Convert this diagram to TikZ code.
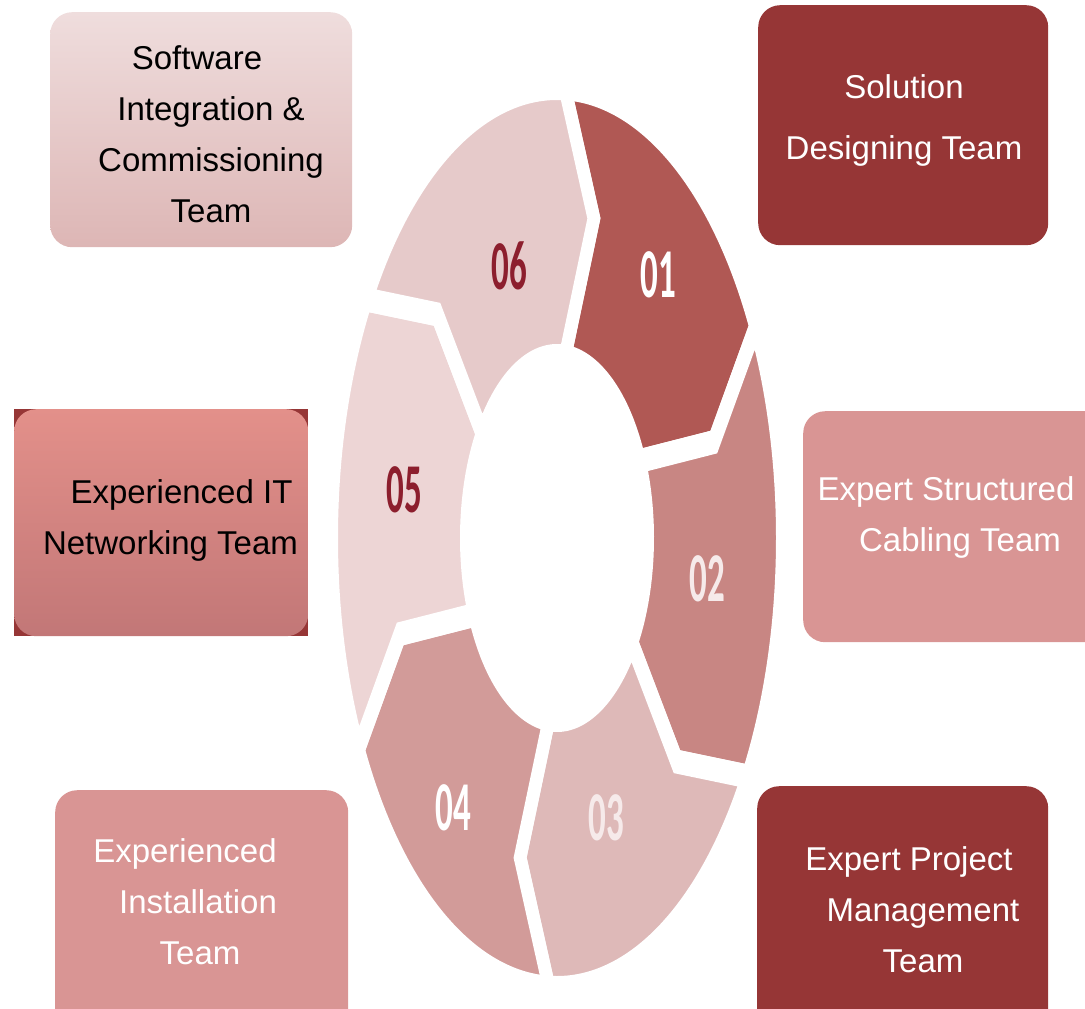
\documentclass[tikz,border=0pt]{standalone}
\usepackage{fontspec}
\setmainfont{Liberation Sans}
\newfontfamily\numfont{Carlito}
\definecolor{darkred}{RGB}{150,54,54}
\definecolor{rosered}{RGB}{217,149,148}
\definecolor{softtop}{RGB}{239,221,221}
\definecolor{softbot}{RGB}{221,182,181}
\definecolor{nettop}{RGB}{227,144,138}
\definecolor{netbot}{RGB}{194,119,119}
\definecolor{seg01}{RGB}{176,88,84}
\definecolor{seg02}{RGB}{200,134,131}
\definecolor{seg03}{RGB}{222,185,184}
\definecolor{seg04}{RGB}{210,155,153}
\definecolor{seg05}{RGB}{237,213,213}
\definecolor{seg06}{RGB}{230,202,202}
\definecolor{numdark}{RGB}{140,30,45}
\definecolor{numlight}{RGB}{246,234,234}
\begin{document}
\begin{tikzpicture}[
    x=1pt, y=-1pt,
    team/.style={rectangle, rounded corners=22pt, anchor=north west, inner sep=0pt},
    teamtext/.style={align=center, font=\fontsize{33}{51}\selectfont},
    seg/.style={draw=white, line width=12pt, line join=miter},
    num/.style={font=\numfont\bfseries\fontsize{35}{40}\selectfont}
]
\clip (0,0) rectangle (1085,1009);

% Ring of six chevron segments (drawn as a circle, stretched upright)
\begin{scope}[transform canvas={cm={1,0,0,2,(557pt,-538pt)}}, y=1pt]
\foreach \a/\c in {85/seg01, 25/seg02, -35/seg03, -95/seg04, -155/seg05, 145/seg06} {
    \pgfmathsetmacro\e{\a-60}
    \path[seg, fill=\c] (\a+3:225) arc[start angle=\a+3, end angle=\e+3, radius=225]
        -- (\e-8:164) -- (\e:91) arc[start angle=\e, end angle=\a, radius=91]
        -- (\a-8:164) -- cycle;
}
% Step numbers
\foreach \p/\n/\col in {{(101,131.5)}/01/white, {(150,-20.5)}/02/numlight,
    {(49,-140)}/03/numlight, {(-104,-135)}/04/white,
    {(-153,24)}/05/numdark, {(-48,136)}/06/numdark} {
    \node[num, text=\col] (n\n) at \p {\n};
}
\end{scope}

% Team boxes
\node[team, top color=softtop, bottom color=softbot, minimum width=302pt, minimum height=235pt] (soft) at (50,12) {};
\node[team, fill=darkred, minimum width=290pt, minimum height=240pt] (solution) at (758,5) {};
\fill[darkred] (14,409) rectangle (308,636);
\node[team, top color=nettop, bottom color=netbot, minimum width=294pt, minimum height=227pt] (network) at (14,409) {};
\node[team, fill=rosered, minimum width=320pt, minimum height=231pt] (cabling) at (803,411) {};
\node[team, fill=rosered, minimum width=293pt, minimum height=250pt] (install) at (55,790) {};
\node[team, fill=darkred, minimum width=291pt, minimum height=250pt] (project) at (757,786) {};

% Team labels
\node[teamtext] (soft-l) at (211,134) {Software\hspace*{28pt}\\ Integration \&\\ Commissioning\\ Team};
\node[teamtext, text=white, font=\fontsize{33}{61}\selectfont] (solution-l) at (904,120) {Solution\\ Designing Team};
\node[teamtext] (network-l) at (176,520) {\hspace*{11pt}Experienced IT\\ Networking Team\hspace*{11pt}};
\node[teamtext, text=white] (cabling-l) at (953,517) {Expert Structured\hspace*{14pt}\\ \hspace*{14pt}Cabling Team};
\node[teamtext, text=white] (install-l) at (194,902) {Experienced\hspace*{18pt}\\ \hspace*{8pt}Installation\\ \hspace*{12pt}Team};
\node[teamtext, text=white] (project-l) at (918,910) {Expert Project\hspace*{18pt}\\ \hspace*{10pt}Management\\ \hspace*{10pt}Team};

\end{tikzpicture}
\end{document}
